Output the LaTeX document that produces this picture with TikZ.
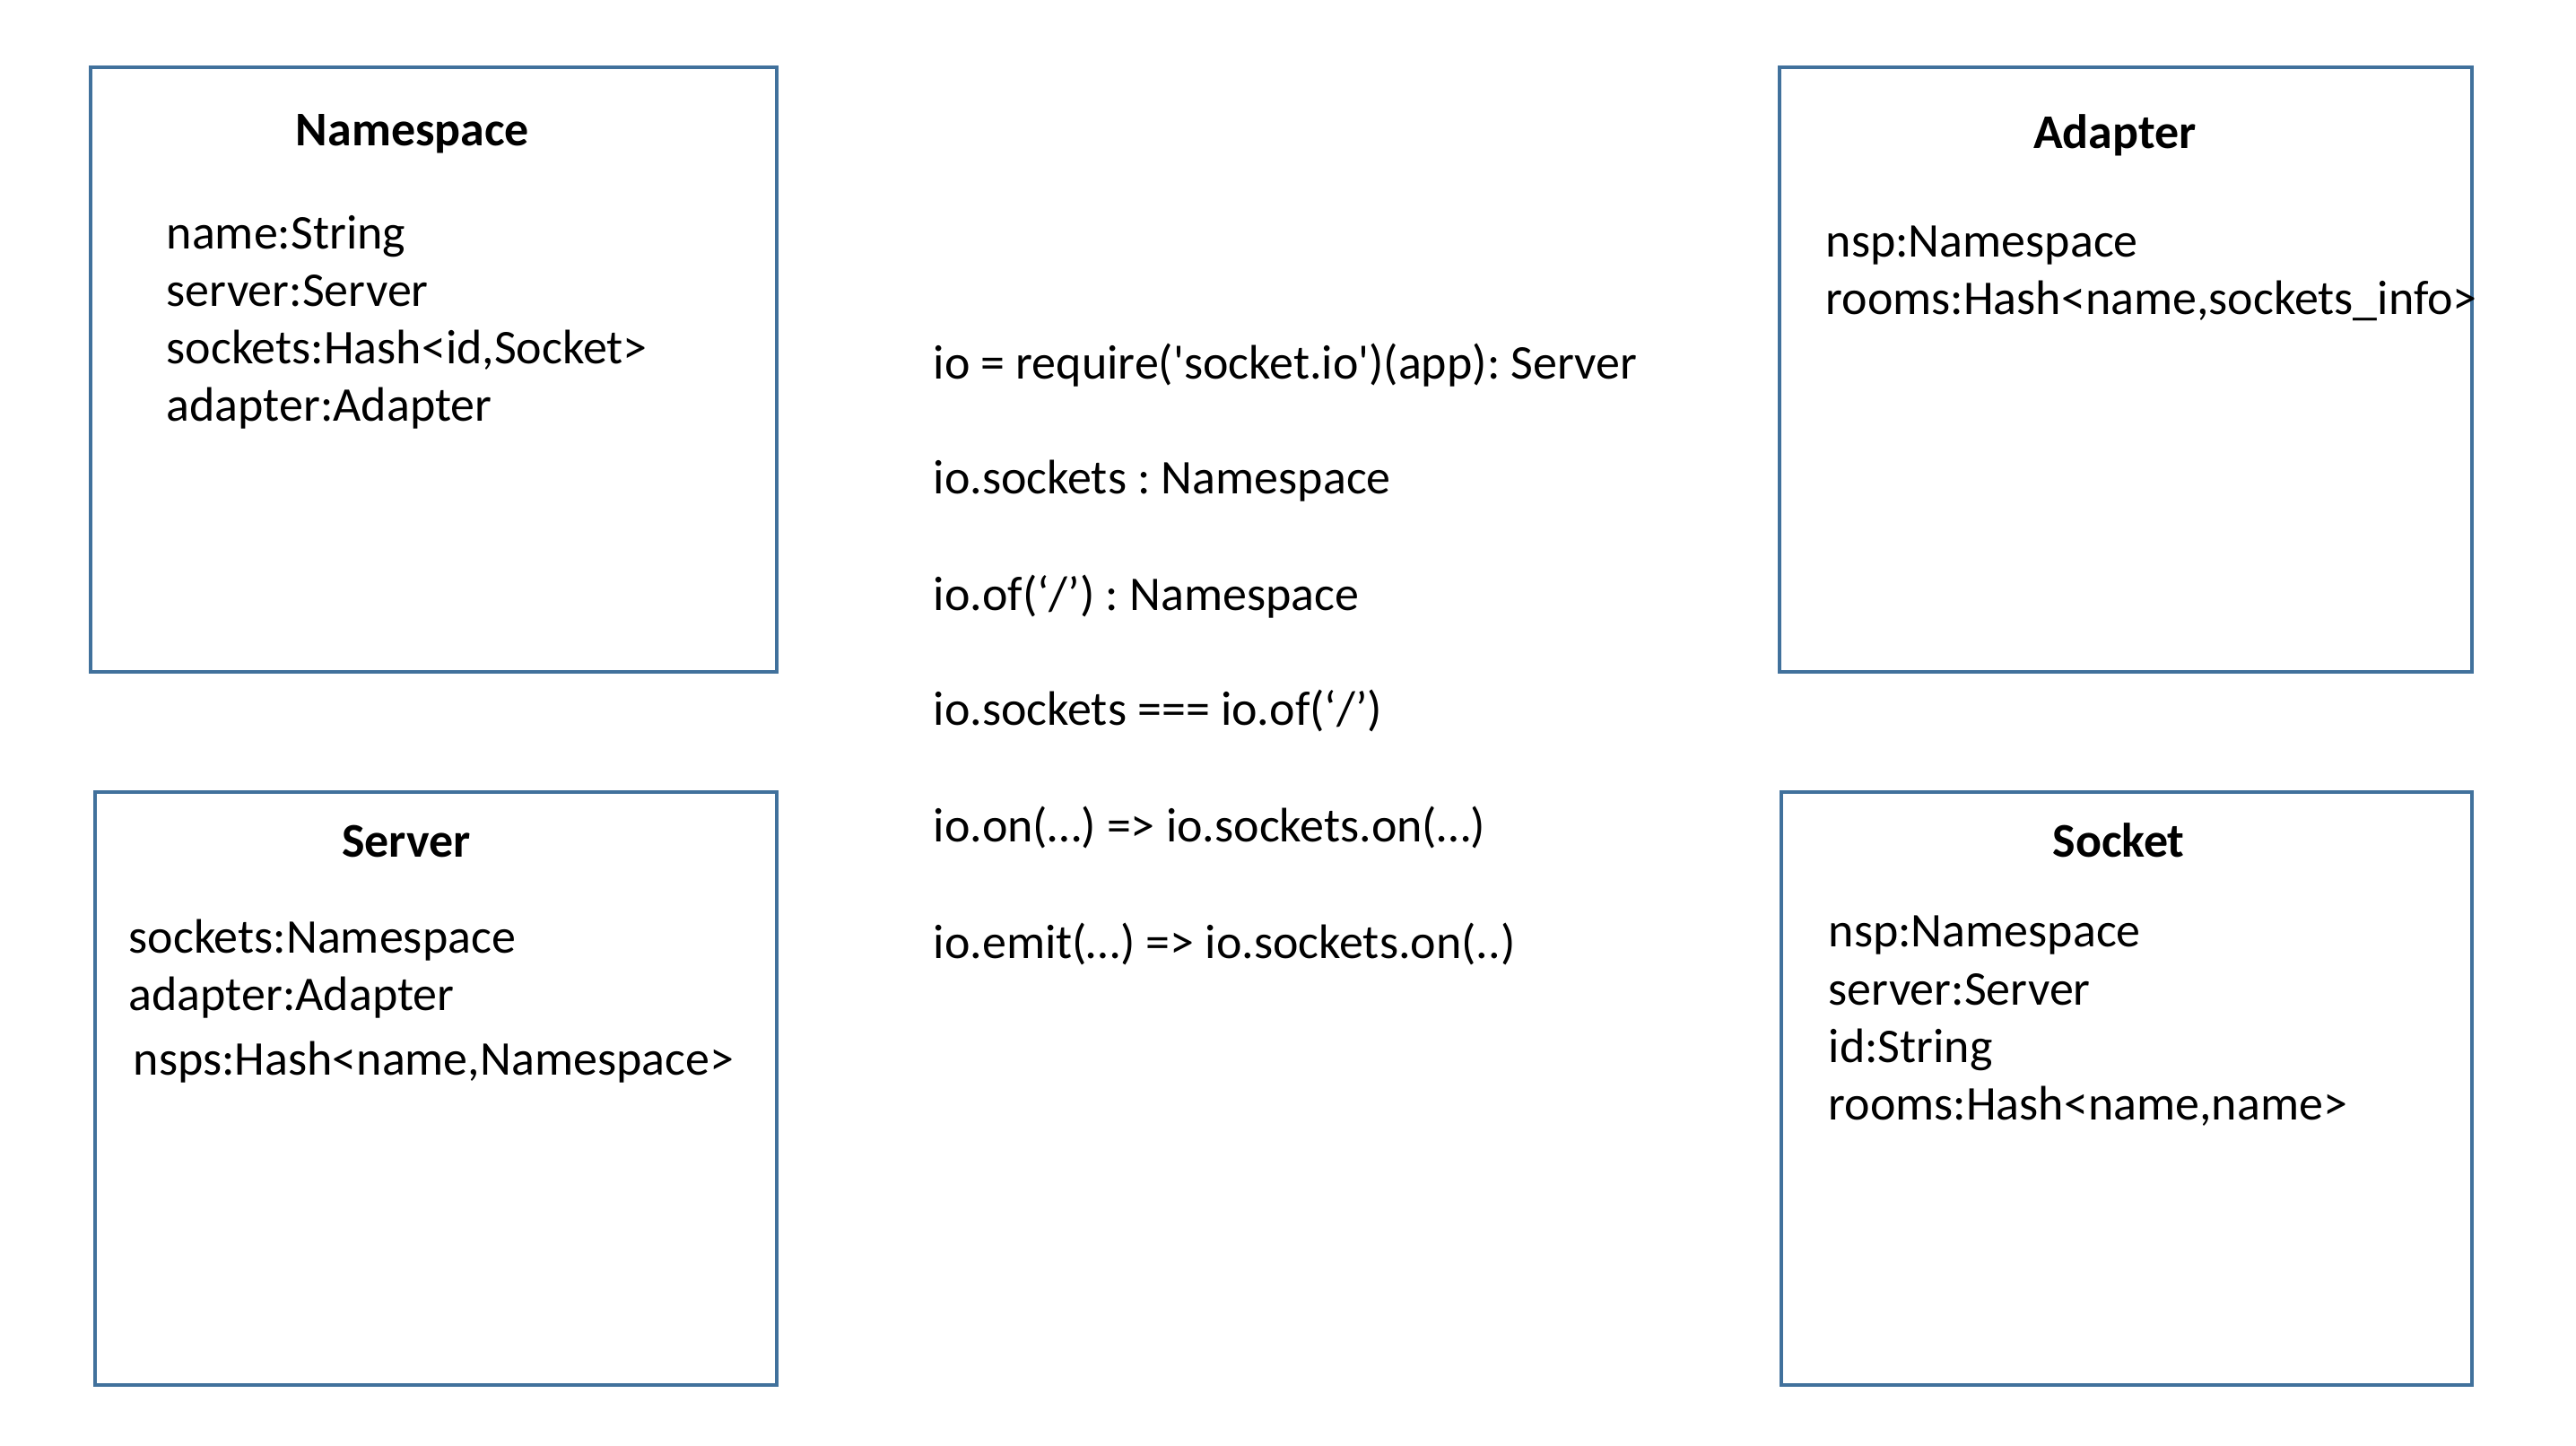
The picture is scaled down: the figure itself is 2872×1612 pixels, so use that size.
\documentclass[tikz,border=0pt]{standalone}
\usepackage{fontspec}
\setmainfont{Carlito}
\definecolor{boxblue}{HTML}{41719C}
\tikzset{
  box/.style={draw=boxblue, line width=1pt},
  title/.style={anchor=base, inner sep=0pt, font=\bfseries},
  attr/.style={anchor=base west, inner sep=0pt},
}
\begin{document}
\frenchspacing
\begin{tikzpicture}[x=0.01cm, y=-0.01cm]
\fontsize{15.35pt}{18.4pt}\selectfont
\useasboundingbox (0,0) rectangle (2872,1612);
% boxes
\draw[box] (101,75) rectangle (866,749);
\draw[box] (1984,75) rectangle (2756,749);
\draw[box] (106,883) rectangle (866,1544);
\draw[box] (1986,883) rectangle (2756,1544);
% Namespace
\node[title] (nst) at (460,162) {Namespace};
\node[attr] (ns1) at (185,277) {name:String};
\node[attr] (ns2) at (185,341) {server:Server};
\node[attr] (ns3) at (185,405) {sockets:Hash<id,Socket>};
\node[attr] (ns4) at (185,469) {adapter:Adapter};
% Adapter
\node[title] (adt) at (2358,165) {Adapter};
\node[attr] (ad1) at (2035,286) {nsp:Namespace};
\node[attr] (ad2) at (2035,350) {rooms:Hash<name,sockets\_info>};
% Server
\node[title] (svt) at (453,955) {Server};
\node[attr] (sv1) at (143,1062) {sockets:Namespace};
\node[attr] (sv2) at (143,1126) {adapter:Adapter};
\node[attr] (sv3) at (148,1198) {nsps:Hash<name,Namespace>};
% Socket
\node[title] (skt) at (2362,955) {Socket};
\node[attr] (sk1) at (2038,1055) {nsp:Namespace};
\node[attr] (sk2) at (2038,1120) {server:Server};
\node[attr] (sk3) at (2038,1184) {id:String};
\node[attr] (sk4) at (2038,1248) {rooms:Hash<name,name>};
% center text
\node[attr] (c1) at (1040,422) {io = require(\textquotesingle socket.io\textquotesingle)(app): Server};
\node[attr] (c2) at (1040,550) {io.sockets : Namespace};
\node[attr] (c3) at (1040,680) {io.of(‘/’) : Namespace};
\node[attr] (c4) at (1040,808) {io.sockets === io.of(‘/’)};
\node[attr] (c5) at (1040,938) {io.on(…) => io.sockets.on(…)};
\node[attr] (c6) at (1040,1068) {io.emit(…) => io.sockets.on(..)};
\end{tikzpicture}
\end{document}
